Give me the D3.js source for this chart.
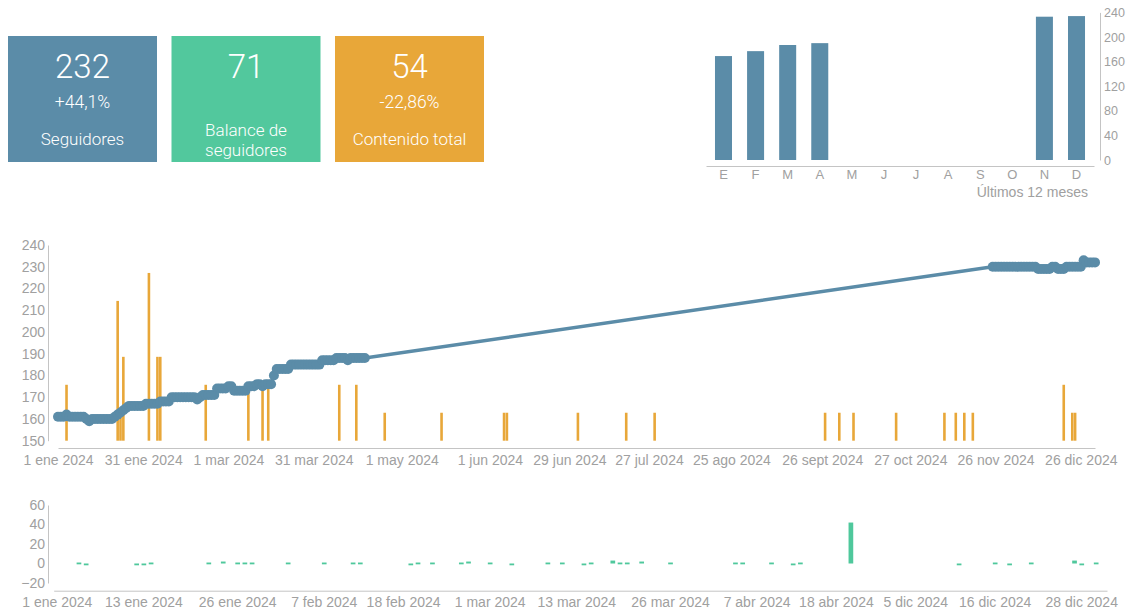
<!DOCTYPE html>
<html>
<head>
<meta charset="utf-8">
<script src="https://cdn.jsdelivr.net/npm/d3@7"></script>
<style>
body { margin: 0; background: #fff; }
svg { font-family: "Liberation Sans", Arial, sans-serif; display: block; }
.axis text { fill: #a0a0a0; }
.axis path { stroke: #c4c4c4; }
.card text { font-family: Roboto, "Liberation Sans", sans-serif; font-weight: 300; }
</style>
</head>
<body>
<svg id="chart" width="1131" height="610"></svg>
<script>
// --- tarjetas
const kpiValues = ["232", "71", "54"];
const kpiChanges = ["+44,1%", "", "-22,86%"];
const kpiLabels = [["Seguidores"], ["Balance de", "seguidores"], ["Contenido total"]];
const kpiColours = ["#5b8ca8", "#52c89d", "#e8a739"];

// --- ultimos 12 meses
const monthLabels = ["E", "F", "M", "A", "M", "J", "J", "A", "S", "O", "N", "D"];
const monthFollowers = [169, 177, 187, 190, null, null, null, null, null, null, 233, 234];

// --- dias con datos (2024)
const days = [
  "01-01","01-02","01-03","01-04","01-05","01-06","01-07","01-08","01-09","01-10",
  "01-11","01-12","01-13","01-14","01-15","01-16","01-17","01-18","01-19","01-20",
  "01-21","01-22","01-23","01-24","01-25","01-26","01-27","01-28","01-29","01-30",
  "01-31","02-01","02-02","02-03","02-04","02-05","02-06","02-07","02-08","02-09",
  "02-10","02-11","02-12","02-13","02-14","02-15","02-16","02-17","02-18","02-19",
  "02-20","02-21","02-22","02-23","02-24","02-25","02-26","02-27","02-28","02-29",
  "03-01","03-02","03-03","03-04","03-05","03-06","03-07","03-08","03-09","03-10",
  "03-11","03-12","03-13","03-14","03-15","03-16","03-17","03-18","03-19","03-20",
  "03-21","03-22","03-23","03-24","03-25","03-26","03-27","03-28","03-29","03-30",
  "03-31","04-01","04-02","04-03","04-04","04-05","04-06","04-07","04-08","04-09",
  "04-10","04-11","04-12","04-13","04-14","04-15","04-16","04-17","04-18",
  "11-25","11-26","11-27","11-28","11-29","11-30",
  "12-01","12-02","12-03","12-04","12-05","12-06","12-07","12-08","12-09","12-10",
  "12-11","12-12","12-13","12-14","12-15","12-16","12-17","12-18","12-19","12-20",
  "12-21","12-22","12-23","12-24","12-25","12-26","12-27","12-28","12-29","12-30",
  "12-31"
];

const followers = [
  161,161,161,162,161,161,161,161,161,161,
  160,159,160,160,160,160,160,160,160,160,
  161,162,163,164,165,166,166,166,166,166,
  166,167,167,167,167,167,168,168,168,168,
  170,170,170,170,170,170,170,170,170,169,
  170,171,171,171,171,171,174,174,174,174,
  175,175,173,173,173,173,173,175,175,175,
  176,176,175,176,176,176,180,183,183,183,
  183,183,185,185,185,185,185,185,185,185,
  185,185,185,187,187,187,187,187,188,188,
  188,188,187,188,188,188,188,188,188,
  230,230,230,230,230,230,
  230,230,230,230,230,230,230,230,230,230,
  229,229,229,229,229,230,230,229,229,229,
  230,230,230,230,230,230,233,232,232,232,
  232
];

const balance = [
  0,0,0,1,-1,0,0,0,0,0,
  0,-1,-1,1,0,0,0,0,0,0,
  0,1,0,2,0,1,1,1,0,0,
  0,0,1,0,0,0,0,1,0,0,
  0,1,1,0,0,0,0,0,0,-1,
  1,0,1,0,0,0,1,2,0,0,
  1,0,0,-1,0,0,0,0,1,0,
  1,0,0,-1,1,0,0,3,1,1,
  0,2,0,0,0,1,0,0,0,0,
  0,0,0,0,1,1,0,0,0,1,
  0,0,-1,1,0,0,0,0,0,
  0,42,0,0,0,0,
  0,0,0,0,0,0,0,0,0,0,
  -1,0,0,0,0,1,0,-1,0,0,
  1,0,0,0,0,0,3,-1,0,1,
  0
];

// --- publicaciones por dia
const postDays = ["01-04","01-22","01-23","01-24","02-02","02-05","02-06","02-22","03-08","03-13",
  "03-15","04-09","04-15","04-25","05-15","06-06","06-07","07-02","07-19","07-29",
  "09-27","10-02","10-07","10-22","11-08","11-12","11-15","11-18","12-20","12-23","12-24"];
const postCounts = [2,5,1,3,6,3,3,2,2,2,
  2,2,2,1,1,1,1,1,1,1,
  1,1,1,1,1,1,1,1,2,1,1];

const mainTicks = ["01-01","01-31","03-01","03-31","05-01","06-01","06-29","07-27","08-25","09-26","10-27","11-26","12-26"];
const balanceTicks = ["01-01","01-13","01-26","02-07","02-18","03-01","03-13","03-26","04-07","04-18","12-05","12-16","12-28"];
const mainYTicks = [150,160,170,180,190,200,210,220,230,240];
const balanceYTicks = [-20,0,20,40,60];
const monthYTicks = [0,40,80,120,160,200,240];

const mesesEs = ["ene","feb","mar","abr","may","jun","jul","ago","sept","oct","nov","dic"];
const parse = d3.timeParse("%Y-%m-%d");
const toDate = s => parse("2024-" + s);
const fmtDate = d => d.getDate() + " " + mesesEs[d.getMonth()] + " " + d.getFullYear();

const blue = "#5b8ca8", green = "#4fc89c", orange = "#e8a739";

const svg = d3.select("#chart");

// ---------- tarjetas
const cards = svg.selectAll("g.card")
  .data(kpiValues)
  .enter()
  .append("g")
  .attr("class", "card")
  .attr("transform", (d, i) => `translate(${8 + i * 163.5}, 36)`);

cards.append("rect")
  .attr("width", 149)
  .attr("height", 126)
  .attr("fill", (d, i) => kpiColours[i]);

cards.append("text")
  .attr("x", 74.5).attr("y", 42)
  .attr("text-anchor", "middle")
  .style("font-size", "33px")
  .attr("fill", "#fff")
  .text(d => d);

cards.append("text")
  .attr("x", 74.5).attr("y", 72)
  .attr("text-anchor", "middle")
  .style("font-size", "17.5px")
  .attr("fill", "#fff")
  .text((d, i) => kpiChanges[i]);

cards.each(function(d, i) {
  const lines = kpiLabels[i];
  const base = lines.length == 1 ? 108.5 : 99.5;
  d3.select(this).selectAll("text.lbl")
    .data(lines)
    .enter()
    .append("text")
    .attr("class", "lbl")
    .attr("x", 74.5)
    .attr("y", (t, j) => base + j * 20)
    .attr("text-anchor", "middle")
    .style("font-size", "17px")
    .attr("fill", "#fff")
    .text(t => t);
});

// ---------- ultimos 12 meses
const xm = d3.scaleBand()
  .domain(d3.range(monthLabels.length))
  .range([706, 1094])
  .paddingInner(0.47)
  .paddingOuter(0.28);

const ym = d3.scaleLinear().domain([0, 240]).range([160, 12.4]);

svg.selectAll("rect.month")
  .data(monthFollowers.map((v, i) => ({i: i, v: v})).filter(d => d.v != null))
  .enter()
  .append("rect")
  .attr("class", "month")
  .attr("x", d => xm(d.i))
  .attr("width", xm.bandwidth())
  .attr("y", d => ym(d.v))
  .attr("height", d => ym(0) - ym(d.v))
  .attr("fill", blue);

svg.append("g")
  .attr("class", "axis")
  .attr("transform", "translate(0,166)")
  .call(d3.axisBottom(xm).tickSize(0).tickPadding(4).tickFormat(i => monthLabels[i]))
  .call(g => g.selectAll("text").style("font-size", "13px"));

svg.append("g")
  .attr("class", "axis")
  .attr("transform", "translate(1100,0)")
  .call(d3.axisRight(ym).tickValues(monthYTicks).tickSize(0).tickPadding(4))
  .call(g => g.selectAll("text").style("font-size", "12.5px"));

svg.append("text")
  .attr("x", 1088).attr("y", 197)
  .attr("text-anchor", "end")
  .style("font-size", "14px")
  .attr("fill", "#a0a0a0")
  .text("Últimos 12 meses");

// ---------- seguidores + contenido
const x = d3.scaleTime()
  .domain([toDate("01-01"), toDate("12-31")])
  .range([58, 1095]);

const y = d3.scaleLinear().domain([150, 240]).range([440.7, 245]);
const yPosts = d3.scaleLinear().domain([0, 7]).range([440.7, 245]);

svg.selectAll("rect.post")
  .data(postDays.map((d, i) => ({date: toDate(d), n: postCounts[i]})))
  .enter()
  .append("rect")
  .attr("class", "post")
  .attr("x", d => x(d.date) - 1.3)
  .attr("width", 2.6)
  .attr("y", d => yPosts(d.n))
  .attr("height", d => yPosts(0) - yPosts(d.n))
  .attr("fill", orange);

const pts = days.map((d, i) => ({date: toDate(d), v: followers[i]}));

svg.append("path")
  .datum(pts)
  .attr("fill", "none")
  .attr("stroke", blue)
  .attr("stroke-width", 3.5)
  .attr("d", d3.line().x(d => x(d.date)).y(d => y(d.v)));

svg.selectAll("circle.pt")
  .data(pts)
  .enter()
  .append("circle")
  .attr("class", "pt")
  .attr("cx", d => x(d.date))
  .attr("cy", d => y(d.v))
  .attr("r", 5)
  .attr("fill", blue);

svg.append("g")
  .attr("class", "axis")
  .attr("transform", "translate(0,448)")
  .call(d3.axisBottom(x).tickValues(mainTicks.map(toDate)).tickFormat(fmtDate).tickSize(0).tickSizeOuter(0).tickPadding(7))
  .call(g => g.selectAll("text").style("font-size", "14px"));

svg.append("g")
  .attr("class", "axis")
  .attr("transform", "translate(48,0)")
  .call(d3.axisLeft(y).tickValues(mainYTicks).tickSize(0).tickPadding(3))
  .call(g => g.selectAll("text").style("font-size", "14px"));

// ---------- balance diario
const xb = d3.scaleBand()
  .domain(days)
  .range([53.7, 1107])
  .paddingInner(0.35)
  .paddingOuter(0.175);

const yb = d3.scaleLinear().domain([-20, 60]).range([583, 505]);

svg.selectAll("rect.bal")
  .data(days.map((d, i) => ({day: d, v: balance[i]})).filter(d => d.v != 0))
  .enter()
  .append("rect")
  .attr("class", "bal")
  .attr("x", d => xb(d.day))
  .attr("width", xb.bandwidth())
  .attr("y", d => Math.min(yb(d.v), yb(0)))
  .attr("height", d => Math.max(1.8, Math.abs(yb(d.v) - yb(0))))
  .attr("fill", green);

svg.append("g")
  .attr("class", "axis")
  .attr("transform", "translate(0,590.7)")
  .call(d3.axisBottom(xb).tickValues(balanceTicks).tickFormat(d => fmtDate(toDate(d))).tickSize(0).tickPadding(6))
  .call(g => g.selectAll("text").style("font-size", "14px"));

svg.append("g")
  .attr("class", "axis")
  .attr("transform", "translate(48,0)")
  .call(d3.axisLeft(yb).tickValues(balanceYTicks).tickSize(0).tickPadding(3))
  .call(g => g.selectAll("text").style("font-size", "14px"));
</script>
</body>
</html>
